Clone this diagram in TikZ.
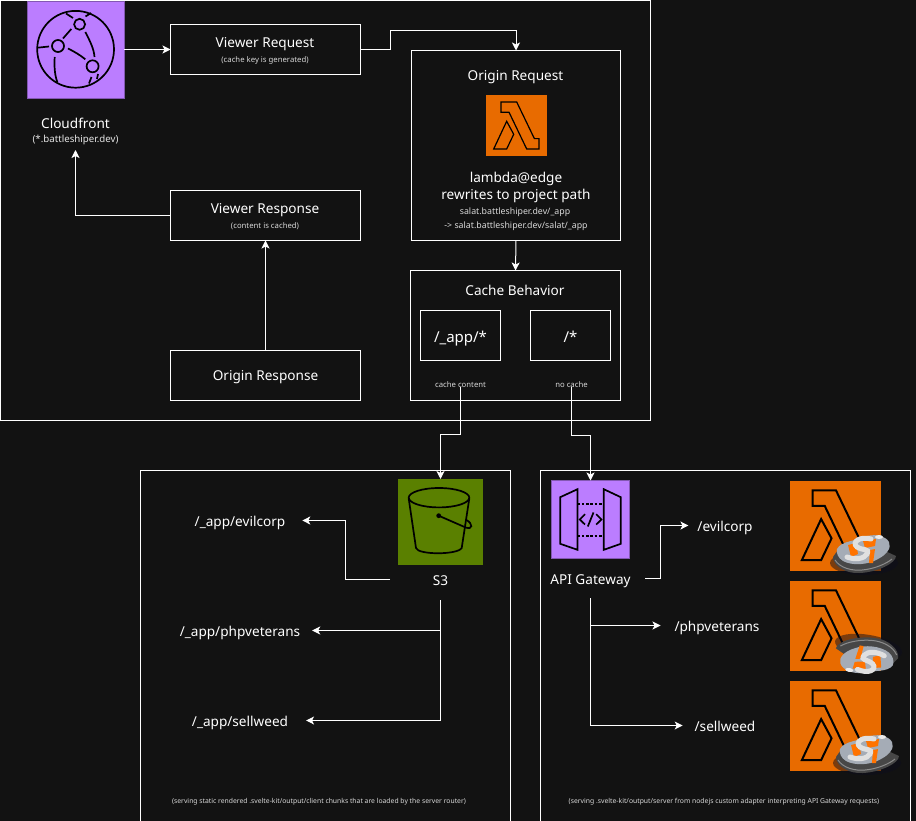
\documentclass[tikz,border=0pt]{standalone}
\usepackage{fontspec}
\setmainfont{Noto Sans}
\usetikzlibrary{arrows.meta}
\definecolor{pagedark}{RGB}{18,18,18}
\definecolor{purpleicon}{RGB}{187,125,255}
\definecolor{orangeicon}{RGB}{232,107,0}
\definecolor{greenicon}{RGB}{90,128,0}
\definecolor{mascotgray}{RGB}{165,172,182}
\tikzset{
    lambdaglyph/.pic={
        \draw[line join=miter,line width=#1] (0.251,0.109) -- (0.508,0.109) -- (0.798,0.710) -- (0.874,0.710) -- (0.874,0.880) -- (0.672,0.880) -- (0.383,0.279) -- (0.251,0.279) -- cycle;
        \draw[line join=miter,line width=#1] (0.344,0.426) -- (0.459,0.639) -- (0.344,0.880) -- (0.131,0.880) -- cycle;
    },
    mascot/.pic={
        \begin{scope}[shift={(-31,-21)}]
        \fill[black!75!blue!25!pagedark,opacity=0.5] (32,30) ellipse (34 and 12);
        \fill[black!72] (1,24) .. controls (1,33) and (14,41) .. (28,40) .. controls (46,39) and (64,30) .. (64,23) -- (40,12) -- (8,14) -- cycle;
        \draw[black!45,line width=1pt] (3,27) .. controls (8,35) and (20,38) .. (30,37) .. controls (42,36) and (54,31) .. (60,26);
        \fill[mascotgray] (5,16) .. controls (9,8) and (24,8) .. (32,4) .. controls (42,0) and (54,3) .. (57,9) .. controls (60,15) and (54,22) .. (46,26) .. controls (36,32) and (20,33) .. (11,28) .. controls (6,25) and (4,20) .. (5,16) -- cycle;
        \fill[orange!90!red] (16,12) -- (24,10) -- (26,21) -- (19,24) -- cycle;
        \fill[orange!90!red] (31,8) -- (44,6) -- (43,13) -- (33,15) -- cycle;
        \fill[orange!90!red] (38,17) -- (43,16) -- (41,30) -- (37,30) -- cycle;
        \draw[black!12,line width=5pt,line cap=round] (39,6) .. controls (28,3) and (19,9) .. (25,14) .. controls (31,18) and (38,15) .. (35,21) .. controls (32,26) and (23,27) .. (15,24);
        \fill[black!8] (47,4) ellipse (4 and 2);
        \end{scope}
    },
    cloudglyph/.pic={
        \draw (48.6,48.3) circle (38.4);
        \draw (52.6,23.3) circle (5.5) (31,45) circle (6) (65.6,65.3) circle (6);
        \draw (44.3,28) -- (36,37.5);
        \draw (41,47.5) .. controls (48,51) and (53,54) .. (58.3,58.3);
        \draw (58.3,31) .. controls (63,40) and (67,48) .. (67.5,56);
        \draw (10.5,46.7) -- (22,45.5);
        \draw (27.7,56) .. controls (27,66) and (28,75) .. (30.3,81);
        \draw (39,12.5) -- (46,17);
        \draw (58.5,15.5) -- (64,12);
        \draw (62,82.5) -- (64.5,76);
        \draw (71,73) -- (70,78);
    },
    gateglyph/.pic={
        \draw[line join=miter] (8.7,16.7) -- (26,8.7) -- (26,69.3) -- (8.7,63.3) -- cycle;
        \draw[line join=miter] (52.3,8.7) -- (69.3,16.7) -- (69.3,63.3) -- (52.3,69.3) -- cycle;
        \draw[dash pattern=on 2.5pt off 1.8pt] (26,23.5) -- (52.3,23.5);
        \draw[dash pattern=on 2.5pt off 1.8pt] (26,55.5) -- (52.3,55.5);
        \draw (33.5,33.7) -- (28.3,39) -- (33.5,44);
        \draw (42,32) -- (36.3,46);
        \draw (44.7,33.7) -- (50,39) -- (44.7,44);
    },
    bucketglyph/.pic={
        \draw (41.3,18.7) ellipse (30.3 and 9.7);
        \draw (11,19.5) -- (18.3,69) .. controls (20,76) and (60,76) .. (64,69) -- (71.6,19.5);
        \fill (41,36.7) circle (2.4);
        \draw (41,36.7) -- (68,48.5) .. controls (75,51) and (76,45) .. (68,40.5);
    }
}
\begin{document}
\begin{tikzpicture}[x=1pt,y=-1pt,
        every node/.style={text=white,inner sep=0pt,outer sep=0pt,text depth=0pt,text height=11pt,font=\fontsize{13.6}{16}\selectfont},
        panel/.style={draw=white,line width=1pt},
        stepbox/.style={draw=white,line width=1pt,anchor=north west},
        small/.style={font=\fontsize{7.75}{10}\selectfont,text=white!85!black,text height=6.2pt},
        tiny/.style={font=\fontsize{8.8}{10}\selectfont,text=white!85!black,text height=7pt},
        medium/.style={font=\fontsize{9.7}{11}\selectfont,text=white!90!black,text height=7.8pt},
        big/.style={font=\fontsize{15}{18}\selectfont,text height=12pt},
        note/.style={font=\fontsize{6.8}{9}\selectfont,text=white!85!black,text height=5.4pt},
        iconbox/.style={anchor=north west},
        flow/.style={draw=white,line width=1pt,-{Stealth[length=8pt,width=8pt,inset=2pt]}},
        glyph/.style={draw=black,line width=1.7pt}]
        \fill[pagedark] (0,0) rectangle (916,821);
        \useasboundingbox (0,0) rectangle (916,821);

        % Three panels
        \draw[panel] (0.5,0.5) rectangle (650.5,420.5);
        \draw[panel] (140.5,470.5) rectangle (510.5,821);
        \draw[panel] (540.5,470.5) rectangle (910.5,821);

        % Cloudfront side
        \node[iconbox,fill=purpleicon,draw=purpleicon!70!black,minimum size=97pt] (cfIcon) at (27,1) {};
        \pic[glyph] at (cfIcon.north west) {cloudglyph};
        \node (cfLabel) at (75.5,123) {Cloudfront};
        \node[medium] (cfSub) at (75.5,139) {(*.battleshiper.dev)};

        \node[stepbox,minimum width=190pt,minimum height=50pt] (viewerReq) at (170.5,24.5) {};
        \node (viewerReqLabel) at (265,42) {Viewer Request};
        \node[small] (viewerReqSub) at (265,59) {(cache key is generated)};
        \node[stepbox,minimum width=190pt,minimum height=50pt] (viewerResp) at (170.5,190.5) {};
        \node (viewerRespLabel) at (265,208) {Viewer Response};
        \node[small] (viewerRespSub) at (265,225) {(content is cached)};
        \node[stepbox,minimum width=190pt,minimum height=50pt] (originResp) at (170.5,350.5) {};
        \node (originRespLabel) at (265.5,375) {Origin Response};

        % Origin request with lambda
        \node[stepbox,minimum width=209pt,minimum height=190pt] (originReq) at (411.5,50.5) {};
        \node (originReqLabel) at (515.5,75) {Origin Request};
        \node[iconbox,fill=orangeicon,minimum size=61pt] (edgeIcon) at (485.7,95.3) {};
        \pic[scale=61] at (edgeIcon.north west) {lambdaglyph=1.2pt};
        \node (edgeLabel) at (516,177) {lambda@edge};
        \node (edgeRewrite) at (516,194) {rewrites to project path};
        \node[tiny] (edgeFrom) at (515,211) {salat.battleshiper.dev/\_app};
        \node[tiny] (edgeTo) at (516,225) {-> salat.battleshiper.dev/salat/\_app};

        % Cache behavior
        \node[stepbox,minimum width=210pt,minimum height=130pt] (cacheBox) at (410.5,270.5) {};
        \node (cacheLabel) at (515,290) {Cache Behavior};
        \node[stepbox,minimum width=80pt,minimum height=50pt] (appBox) at (420.5,310.5) {};
        \node[big] (appLabel) at (460.5,336) {/\_app/*};
        \node[stepbox,minimum width=80pt,minimum height=50pt] (allBox) at (530.5,310.5) {};
        \node[big] (allLabel) at (570.5,336) {/*};
        \node[small] (cacheContent) at (460.5,384) {cache content};
        \node[small] (noCache) at (571.5,384) {no cache};

        % S3 panel
        \node[iconbox,fill=greenicon,minimum size=85.6pt] (s3Icon) at (397.7,479) {};
        \pic[glyph] at (s3Icon.north west) {bucketglyph};
        \node (s3Label) at (440.5,579.5) {S3};
        \node (appEvil) at (240,520.5) {/\_app/evilcorp};
        \node (appPhp) at (240,630.5) {/\_app/phpveterans};
        \node (appSell) at (240,720.5) {/\_app/sellweed};
        \node[note] (s3Note) at (319,801) {(serving static rendered .svelte-kit/output/client chunks that are loaded by the server router)};

        % API Gateway panel
        \node[iconbox,fill=purpleicon,draw=purpleicon!70!black,minimum size=78pt] (apiIcon) at (551.5,480.5) {};
        \pic[glyph] at (apiIcon.north west) {gateglyph};
        \node (apiLabel) at (590.5,578.5) {API Gateway};
        \node (apiEvil) at (725,525.5) {/evilcorp};
        \node (apiPhp) at (717,625.5) {/phpveterans};
        \node (apiSell) at (725,725.5) {/sellweed};
        \node[note] (apiNote) at (724,801) {(serving .svelte-kit/output/server from nodejs custom adapter interpreting API Gateway requests)};

        \foreach \name/\top/\mx/\my/\turn in {a/480.5/863/554/0,b/580.5/868/656/170,c/680.5/866/754/0} {
            \node[iconbox,fill=orangeicon,minimum size=90.5pt] (lambda\name) at (790,\top) {};
            \pic[scale=90.5] at (lambda\name.north west) {lambdaglyph=2pt};
            \pic[rotate=\turn] at (\mx,\my) {mascot};
        }

        % Connectors
        \coordinate (reqBend) at (390.5,30.5);
        \coordinate (cfIn) at (75.5,150);
        \coordinate (cacheBend) at (460.5,434.5);
        \coordinate (noCacheBend) at (571.5,435.5);
        \coordinate (s3Out) at (390,579.5);
        \coordinate (s3Bend) at (345.5,520.5);
        \coordinate (s3Mid) at (440.5,600);
        \coordinate (apiOut) at (645,578.5);
        \coordinate (apiBend) at (660.5,525.5);
        \coordinate (apiMid) at (590.5,598);

        \draw[flow] (cfIcon.east) -- (viewerReq.west);
        \draw[flow] (viewerReq.east) -| (reqBend) -| (originReq.north);
        \draw[flow] (originReq.south) -- (cacheBox.north);
        \draw[flow] (originResp.north) -- (viewerResp.south);
        \draw[flow] (viewerResp.west) -| (cfIn);
        \draw[flow] (cacheContent.south) -- (cacheBend) -| (s3Icon.north);
        \draw[flow] (noCache.south) -- (noCacheBend) -| (apiIcon.north);
        \draw[flow] (s3Out) -| (s3Bend) -- ([xshift=17pt]appEvil.east);
        \draw[flow] (s3Mid) |- ([xshift=12pt]appPhp.east);
        \draw[flow] (s3Mid) |- ([xshift=18pt]appSell.east);
        \draw[flow] (apiOut) -| (apiBend) -- ([xshift=-9pt]apiEvil.west);
        \draw[flow] (apiMid) |- ([xshift=-14pt]apiPhp.west);
        \draw[flow] (apiMid) |- ([xshift=-12pt]apiSell.west);
    \end{tikzpicture}
\end{document}
